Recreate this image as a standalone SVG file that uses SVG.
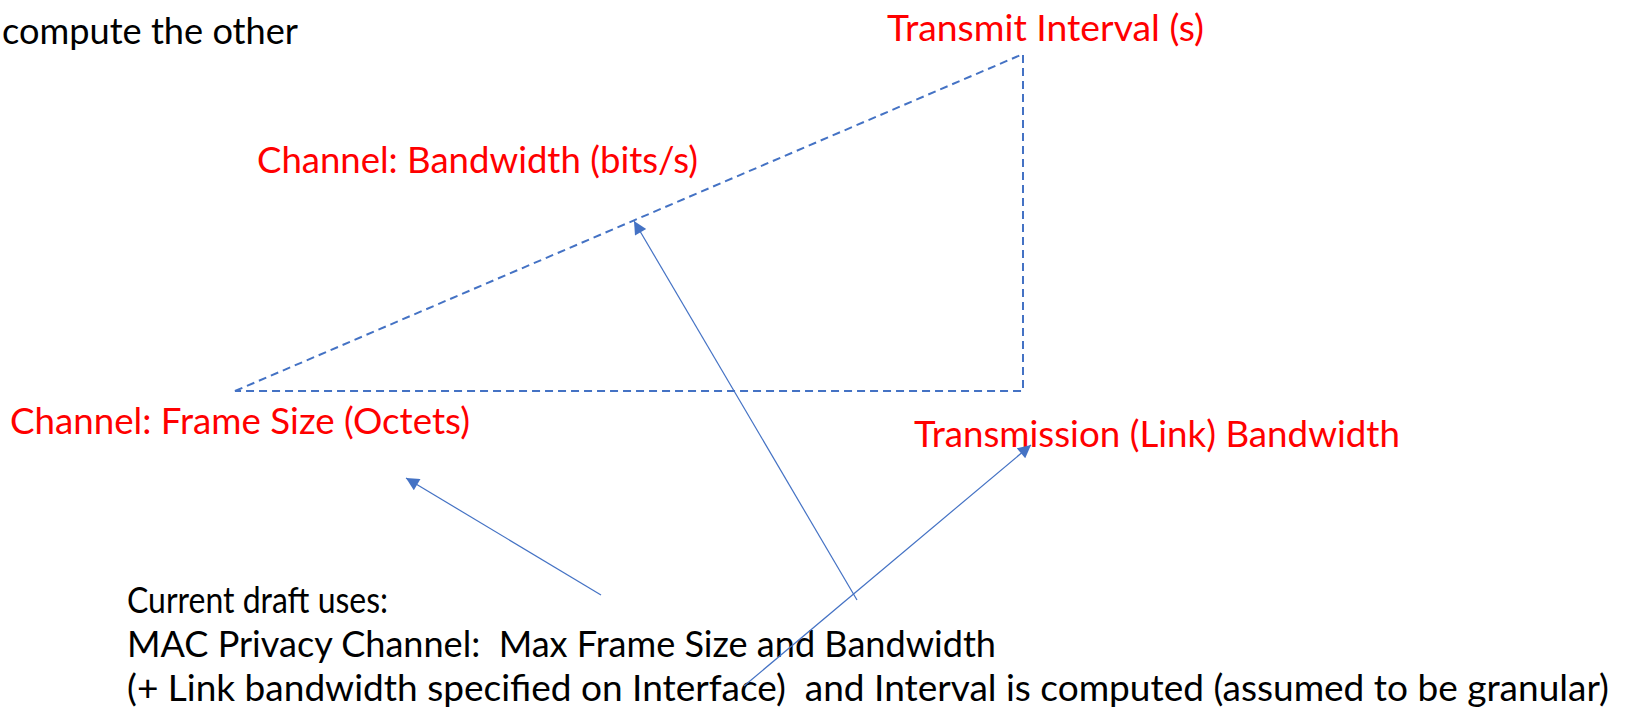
<svg xmlns="http://www.w3.org/2000/svg" width="1630" height="711" viewBox="0 0 1630 711">
<defs>
<style>
.t{font-family:Lato,"Open Sans","Liberation Sans",sans-serif;font-size:36px;white-space:pre}
.red{fill:#FF0000}
.blk{fill:#000000}
.dash{fill:none;stroke:#4472C4;stroke-width:2;stroke-dasharray:8 5}
.conn{fill:none;stroke:#4472C4;stroke-width:1.2}
</style>
<marker id="ah" viewBox="0 0 10 10" refX="10" refY="5" markerWidth="15" markerHeight="13" markerUnits="userSpaceOnUse" orient="auto">
<path d="M0,0 L10,5 L0,10 z" fill="#4472C4"/>
</marker>
</defs>
<rect width="1630" height="711" fill="#ffffff"/>
<g id="intro">
<text class="t blk" x="2" y="44" textLength="296" lengthAdjust="spacingAndGlyphs">compute the other</text>
</g>
<g id="triangle">
<path class="dash" d="M235,391 L1023,54 L1023,391 Z"/>
</g>
<g id="node-interval">
<text class="t red" x="887" y="41" textLength="317" lengthAdjust="spacingAndGlyphs">Transmit Interval (s)</text>
</g>
<g id="node-bandwidth">
<text class="t red" x="257" y="173" textLength="441" lengthAdjust="spacingAndGlyphs">Channel: Bandwidth (bits/s)</text>
</g>
<g id="node-framesize">
<text class="t red" x="10" y="434" textLength="460" lengthAdjust="spacingAndGlyphs">Channel: Frame Size (Octets)</text>
</g>
<g id="node-link">
<text class="t red" x="914" y="447" textLength="486" lengthAdjust="spacingAndGlyphs">Transmission (Link) Bandwidth</text>
</g>
<g id="note">
<text class="t blk" x="127" y="613" textLength="261" lengthAdjust="spacingAndGlyphs">Current draft uses:</text>
<text class="t blk" x="127" y="657" textLength="869" lengthAdjust="spacingAndGlyphs" xml:space="preserve">MAC Privacy Channel:  Max Frame Size and Bandwidth</text>
<text class="t blk" x="127" y="701" textLength="1482" lengthAdjust="spacingAndGlyphs" xml:space="preserve">(+ Link bandwidth specified on Interface)  and Interval is computed (assumed to be granular)</text>
</g>
<g id="connectors">
<line class="conn" x1="601" y1="595" x2="406" y2="478" marker-end="url(#ah)"/>
<line class="conn" x1="857" y1="600" x2="634" y2="221" marker-end="url(#ah)"/>
<line class="conn" x1="744" y1="686" x2="1031" y2="445" marker-end="url(#ah)"/>
</g>
</svg>
